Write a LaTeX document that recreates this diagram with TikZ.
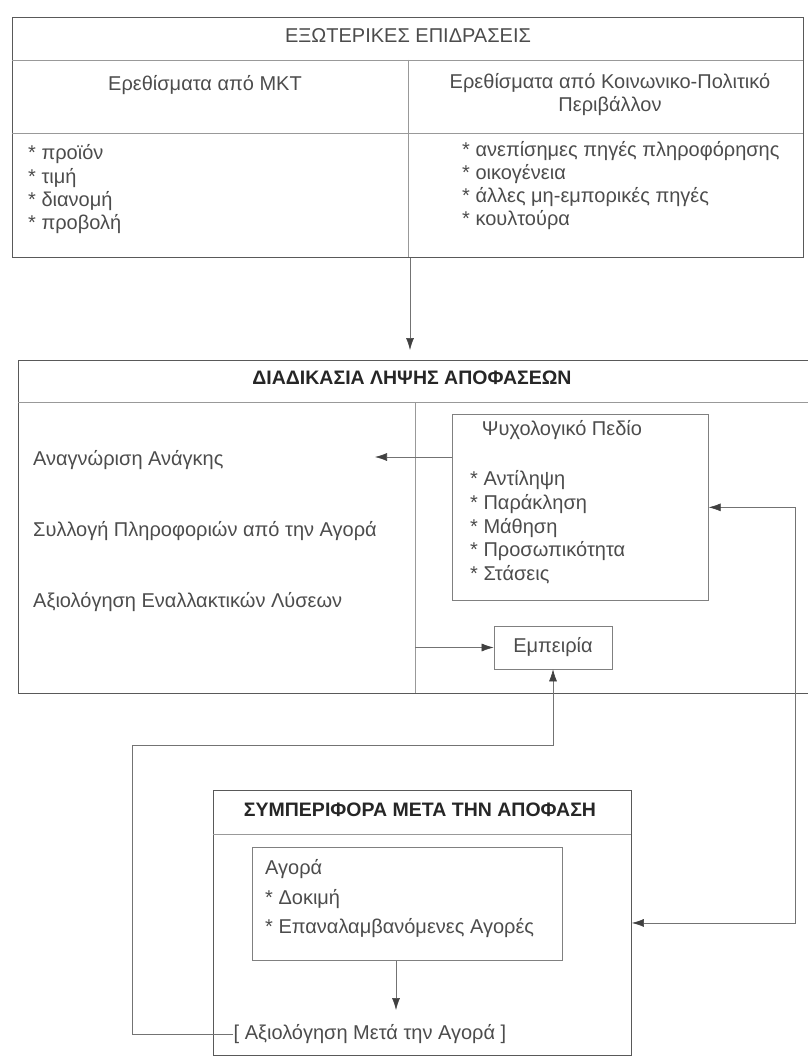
\documentclass[tikz,border=0pt]{standalone}
\usepackage{fontspec}
\setmainfont{Liberation Sans}
\usetikzlibrary{arrows.meta,calc}
\begin{document}
\begin{tikzpicture}[x=1pt,y=-1pt,
  >={Latex[length=12pt,width=8pt,color=black!75]},
  box/.style={draw=black!65, line width=0.9pt, inner sep=0pt, anchor=north west},
  sep/.style={draw=black!40, line width=0.6pt},
  txt/.style={text=black!70, font=\fontsize{20}{23}\selectfont, inner sep=0pt},
  hdr/.style={text=black!85, font=\fontsize{19.5}{23}\selectfont\bfseries, inner sep=0pt},
  conn/.style={draw=black!55, line width=0.6pt, ->},
  conn2/.style={draw=black!55, line width=0.6pt, <->},
]
\useasboundingbox (0,0) rectangle (808,1057);
% ---------- top box
\node[box, minimum width=791pt, minimum height=240pt] (ext) at (12,17) {};
\draw[sep] (12,60) -- (803,60);
\draw[sep] (12,133) -- (803,133);
\draw[sep] (408,60) -- (408,257);
\node[txt, anchor=mid] (extT) at (408,40) {ΕΞΩΤΕΡΙΚΕΣ ΕΠΙΔΡΑΣΕΙΣ};
\node[txt, anchor=mid] (mkt) at (205,88) {Ερεθίσματα από ΜΚΤ};
\node[txt, anchor=center, align=center] (kp) at (610,95) {Ερεθίσματα από Κοινωνικο-Πολιτικό\\Περιβάλλον};
\node[txt, anchor=mid west] (l1) at (28,157) {* προϊόν};
\node[txt, anchor=mid west] (l2) at (28,181) {* τιμή};
\node[txt, anchor=mid west] (l3) at (28,204) {* διανομή};
\node[txt, anchor=mid west] (l4) at (28,227) {* προβολή};
\node[txt, anchor=mid west] (r1) at (462,154) {* ανεπίσημες πηγές πληροφόρησης};
\node[txt, anchor=mid west] (r2) at (462,177) {* οικογένεια};
\node[txt, anchor=mid west] (r3) at (462,200) {* άλλες μη-εμπορικές πηγές};
\node[txt, anchor=mid west] (r4) at (462,223) {* κουλτούρα};
% ---------- decision box
\node[box, minimum width=792pt, minimum height=333pt] (dec) at (18,360) {};
\draw[sep] (18,402) -- (810,402);
\coordinate (div) at (415,402);
\draw[sep] (div) -- (415,693);
\node[hdr, anchor=mid] (decT) at (412,382) {ΔΙΑΔΙΚΑΣΙΑ ΛΗΨΗΣ ΑΠΟΦΑΣΕΩΝ};
\node[txt, anchor=mid west] (ana) at (33,463) {Αναγνώριση Ανάγκης};
\node[txt, anchor=mid west] (syl) at (33,534) {Συλλογή Πληροφοριών από την Αγορά};
\node[txt, anchor=mid west] (axi) at (33,605) {Αξιολόγηση Εναλλακτικών Λύσεων};
\node[box, draw=black!50, line width=0.7pt, minimum width=256pt, minimum height=186pt] (psy) at (452,414) {};
\node[txt, anchor=mid] (psyT) at (562,433) {Ψυχολογικό Πεδίο};
\node[txt, anchor=mid west] (p1) at (470,483) {* Αντίληψη};
\node[txt, anchor=mid west] (p2) at (470,507) {* Παράκληση};
\node[txt, anchor=mid west] (p3) at (470,531) {* Μάθηση};
\node[txt, anchor=mid west] (p4) at (470,554) {* Προσωπικότητα};
\node[txt, anchor=mid west] (p5) at (470,578) {* Στάσεις};
\node[txt, draw=black!50, line width=0.7pt, minimum width=118pt, minimum height=43pt] (emp) at (553,647.5) {Εμπειρία};
% ---------- post-decision box
\node[box, minimum width=418pt, minimum height=265pt] (post) at (213,790) {};
\draw[sep] (213,834) -- (631,834);
\node[hdr, anchor=mid] (postT) at (420,814) {ΣΥΜΠΕΡΙΦΟΡΑ ΜΕΤΑ ΤΗΝ ΑΠΟΦΑΣΗ};
\node[box, draw=black!50, line width=0.7pt, minimum width=310pt, minimum height=113pt] (buy) at (252,847) {};
\node[txt, anchor=mid west] (b0) at (265,872) {Αγορά};
\node[txt, anchor=mid west] (b1) at (265,902) {* Δοκιμή};
\node[txt, anchor=mid west] (b2) at (265,931) {* Επαναλαμβανόμενες Αγορές};
\node[txt, anchor=mid] (eval) at (370,1037) {[ Αξιολόγηση Μετά την Αγορά ]};
% ---------- connectors
\coordinate (topx) at (410,350);
\draw[conn] (ext.south -| topx) -- (topx);
\coordinate (needtip) at (375,457);
\draw[conn] (psy.west |- needtip) -- (needtip);
\draw[conn] (emp.west -| div) -- (emp.west);
\coordinate (loopTL) at (132,745);
\draw[conn] (eval.west) -| (loopTL) -| (emp.south);
\coordinate (rx) at (795,507);
\draw[conn2] (psy.east) -| (rx) |- (post.east);
\coordinate (ax) at (396,1010);
\draw[conn] (buy.south -| ax) -- (ax);
\end{tikzpicture}
\end{document}
